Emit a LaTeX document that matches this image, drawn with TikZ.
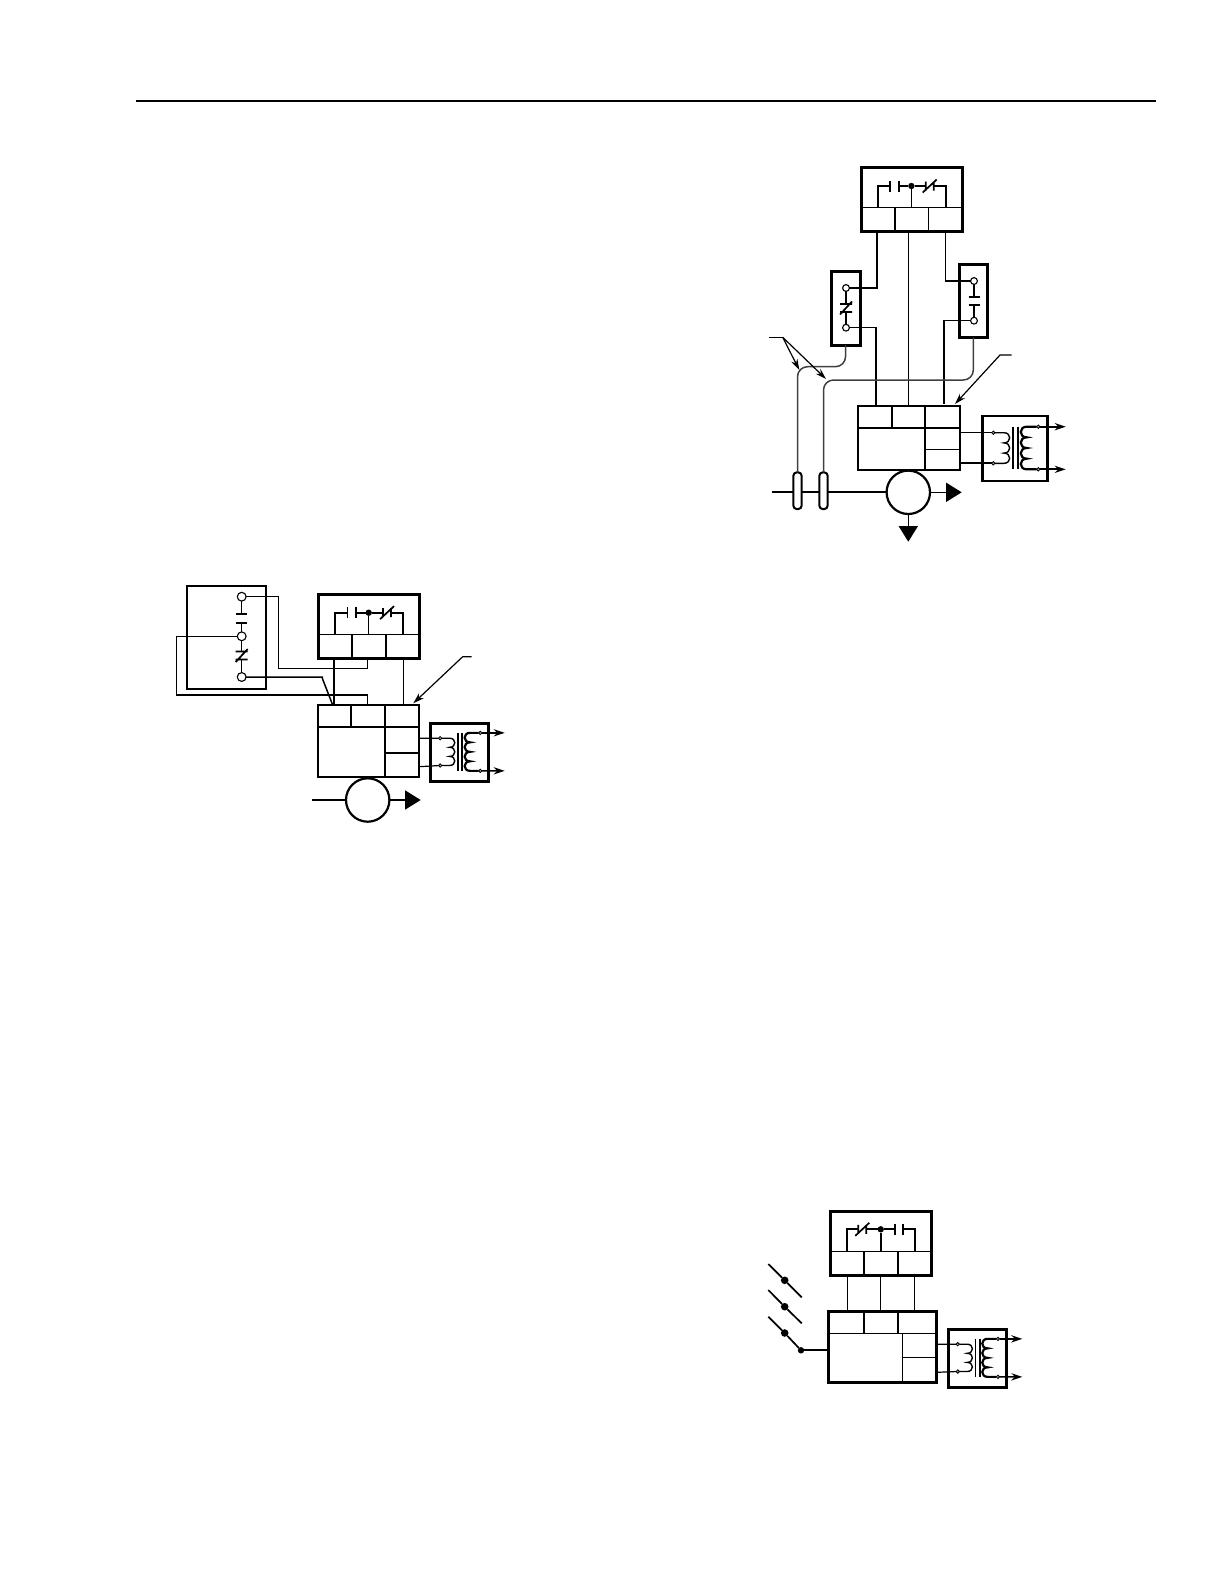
\documentclass[tikz,border=0pt]{standalone}
\usepackage{xcolor}
\usepackage{tikz}
\usetikzlibrary{shapes,positioning,arrows.meta}
\tikzset{
    sized/.style 2 args={minimum width=#1*0.5bp,minimum height=#2*0.5bp},
    box/.style={rectangle,draw,anchor=north west,inner sep=0,outer sep=0,line width=1.5bp},
    litebox/.style={box,line width=1.2bp},
    wire/.style={line width=0.85bp},
    fine/.style={line width=0.6bp},
    sense/.style={line width=0.75bp,black!75,rounded corners=5bp},
    term/.style={circle,draw,fill=white,inner sep=0,outer sep=0,minimum size=4.4bp,line width=0.55bp},
    smallterm/.style={term,minimum size=3.4bp},
    jdot/.style={circle,fill,inner sep=0,outer sep=0,minimum size=3.2bp},
    tdot/.style={circle,draw,fill=black!35,inner sep=0,outer sep=0,minimum size=1.7bp,line width=0.4bp},
    meter/.style={circle,draw,fill=white,inner sep=0,outer sep=0,minimum size=21.7bp,line width=1.1bp},
    tube/.style={rectangle,draw,fill=white,rounded corners=1.8bp,inner sep=0,outer sep=0,minimum width=4.2bp,minimum height=18.4bp,line width=1bp},
    bigtip/.style={-{Triangle[length=7.8bp,width=9.5bp]}},
    coilr/.style={out=0,in=0,looseness=1.9},
    coill/.style={out=180,in=180,looseness=1.9},
    makeh/.pic={
        \coordinate (-a) at (-4.3,0);
        \coordinate (-b) at (4.3,0);
        \draw[wire] (-4.3,-5.5) -- (-4.3,5.5) (4.3,-5.5) -- (4.3,5.5);
    },
    breakh/.pic={
        \coordinate (-a) at (-4,0);
        \coordinate (-b) at (4,0);
        \draw[wire] (-4,-4.5) -- (-4,4.5) (4,-4.5) -- (4,4.5) (-7,6.5) -- (7,-6.5);
    },
    breakv/.pic={
        \coordinate (-a) at (0,-4);
        \coordinate (-b) at (0,4);
        \draw[wire] (-6,-4) -- (6,-4) (-6,4) -- (6,4) (-6,6.5) -- (6,-6.5);
    },
    xfmr/.pic={
        \draw[line width=1.25bp] (0,0) rectangle (65,65);
        \node[tdot] (-pri1) at (10.6,16.7) {};
        \node[tdot] (-pri2) at (10.6,47.3) {};
        \node[tdot] (-sec1) at (55.6,10.7) {};
        \node[tdot] (-sec2) at (55.6,53.3) {};
        \coordinate (-out1) at (83,10.7);
        \coordinate (-out2) at (83,53.3);
        \draw[fine,line width=0.7bp] (-pri1) -- (21.3,16.7) to[coilr] (21.3,26.9) to[coilr] (21.3,37.1) to[coilr] (21.3,47.3) -- (-pri2);
        \draw[wire] (30.6,10.7) -- (30.6,53.3) (35.3,10.7) -- (35.3,53.3);
        \draw[line width=1.1bp] (-sec1) -- (44,10.7) to[coill] (44,21.35) to[coill] (44,32) to[coill] (44,42.65) to[coill] (44,53.3) -- (-sec2);
        \draw[line width=1.2bp,->,>={Stealth[length=5.5bp,width=3.6bp]}] (-sec1) -- (-out1);
        \draw[wire,->,>={Stealth[length=5.5bp,width=3.6bp]}] (-sec2) -- (-out2);
    }
}
\begin{document}
\begin{tikzpicture}[x=0.5bp,y=-0.5bp,>={Stealth[length=5.5bp,width=3.4bp]}]
    \useasboundingbox (0,0) rectangle (1224,1584);
    \coordinate (rulea) at (136,101);
    \coordinate (ruleb) at (1156,101);
    \draw[line width=1bp] (rulea) -- (ruleb);

    \node[litebox,sized={79.3}{103}] (a1) at (186.7,585.7) {};
    \node[term] (t1) at (241.7,596.7) {};
    \node[term] (t2) at (241.7,636.3) {};
    \node[term] (t3) at (241.7,677) {};
    \pic[rotate=90] (k1) at (241.7,618.5) {makeh};
    \pic (k2) at (241.7,655.5) {breakv};
    \draw[fine] (t1) -- (k1-b);
    \draw[fine] (k1-a) -- (t2);
    \draw[fine] (t2) -- (k2-a);
    \draw[fine] (k2-b) -- (t3);

    \node[box,sized={101}{64.3}] (b1) at (318.3,594) {};
    \draw[fine] (318.3,634.3) -- (419.3,634.3);
    \draw[wire] (352,634.3) -- (352,658.3) (385.7,634.3) -- (385.7,658.3);
    \coordinate (b1l) at (335,634.3);
    \coordinate (b1m) at (368.7,634.3);
    \coordinate (b1r) at (403.3,634.3);
    \node[jdot] (j1) at (368.7,612.7) {};
    \pic (k3) at (351.7,612.7) {makeh};
    \pic (k4) at (387,612.7) {breakh};
    \draw[wire] (b1l) |- (k3-a);
    \draw[wire] (k3-b) -- (j1);
    \draw[wire] (j1) -- (k4-a);
    \draw[wire] (k4-b) -| (b1r);
    \draw[fine] (j1) -- (b1m);

    \node[box,line width=1bp,sized={100.4}{71.7}] (c1) at (318.3,705) {};
    \draw[wire] (318.3,726.7) -- (418.7,726.7);
    \draw[wire] (351,705) -- (351,726.7);
    \draw[fine] (385,705) -- (385,776.7);
    \draw[wire] (385,753) -- (418.7,753);
    \pic[scale=0.892] (x1) at (430.7,723.3) {xfmr};
    \draw[fine] (418.7,738.3) -- (x1-pri1);
    \draw[fine] (418.7,766.7) -- (x1-pri2);

    \coordinate (b1a) at (334,658.3);
    \coordinate (b1b) at (367.7,658.3);
    \coordinate (b1c) at (403.3,658.3);
    \coordinate (c1a) at (334,705);
    \coordinate (c1b) at (367.7,705);
    \coordinate (c1c) at (403.3,705);
    \coordinate (c1d) at (332.7,705);
    \coordinate (w1) at (278.3,668.7);
    \coordinate (w2) at (322.3,678.3);
    \coordinate (w3) at (176.7,695);
    \draw[wire] (b1a) -- (c1a);
    \draw[fine] (b1c) -- (c1c);
    \draw[fine,line width=0.75bp] (b1b) |- (w1) |- (t1);
    \draw[fine,line width=0.75bp] (t3) -| (w2) -- (c1d);
    \draw[fine,line width=0.75bp] (t2) -| (w3) -| (c1b);
    \coordinate (lead1) at (471.7,656.7);
    \coordinate (lead1b) at (462.7,656.7);
    \coordinate (lead1c) at (413.3,703.3);
    \draw[fine,->] (lead1) -- (lead1b) -- (lead1c);

    \node[meter] (m1) at (367.7,800) {};
    \coordinate (m1in) at (312.3,800);
    \coordinate (m1out) at (420.7,800);
    \draw[fine,line width=0.75bp] (m1in) -- (m1);
    \draw[fine,line width=0.75bp,bigtip] (m1) -- (m1out);

    \node[box,sized={101.7}{64.4}] (b2) at (861,167.3) {};
    \draw[fine] (861,207.7) -- (962.7,207.7);
    \draw[wire] (895,207.7) -- (895,231.7);
    \draw[fine] (928.7,207.7) -- (928.7,231.7);
    \coordinate (b2l) at (877.7,207.7);
    \coordinate (b2m) at (911.4,207.7);
    \coordinate (b2r) at (946,207.7);
    \node[jdot] (j2) at (911.4,186) {};
    \pic (k5) at (894.4,186) {makeh};
    \pic (k6) at (929.7,186) {breakh};
    \draw[wire] (b2l) |- (k5-a);
    \draw[wire] (k5-b) -- (j2);
    \draw[wire] (j2) -- (k6-a);
    \draw[wire] (k6-b) -| (b2r);
    \draw[fine] (j2) -- (b2m);

    \node[box,sized={29}{74}] (d2) at (831,271) {};
    \node[smallterm] (t4) at (846,288) {};
    \node[smallterm] (t5) at (846,327.7) {};
    \pic (k7) at (846,308) {breakv};
    \draw[wire] (t4) -- (k7-a);
    \draw[wire] (k7-b) -- (t5);

    \node[box,sized={28.7}{73.7}] (e2) at (959,264) {};
    \node[smallterm] (t6) at (974,281) {};
    \node[smallterm] (t7) at (974,320.7) {};
    \pic[rotate=90] (k8) at (974,301) {makeh};
    \draw[wire] (t6) -- (k8-b);
    \draw[wire] (k8-a) -- (t7);

    \node[box,line width=1bp,sized={102.3}{64.3}] (c2) at (857.7,405.7) {};
    \draw[wire] (857.7,428.3) -- (960,428.3);
    \draw[wire] (891.7,405.7) -- (891.7,428.3);
    \draw[wire] (925,405.7) -- (925,470);
    \draw[fine] (925,449.3) -- (960,449.3);
    \pic (x2) at (982.7,416) {xfmr};
    \draw[fine] (960,432.7) -- (x2-pri1);
    \draw[wire] (960,463.3) -- (x2-pri2);

    \coordinate (b2a) at (877,231.7);
    \coordinate (b2b) at (908.3,231.7);
    \coordinate (b2c) at (945.7,231.7);
    \coordinate (c2a) at (876,405.7);
    \coordinate (c2b) at (908.3,405.7);
    \coordinate (c2c) at (944,404);
    \draw[line width=0.75bp] (b2a) |- (t4);
    \draw[line width=0.75bp] (t5) -| (c2a);
    \draw[fine] (b2b) -- (c2b);
    \draw[line width=0.75bp] (b2c) |- (t6);
    \draw[line width=0.75bp] (t7) -| (c2c);

    \node[meter] (m2) at (908.3,492.3) {};
    \coordinate (m2in) at (772.3,492.3);
    \coordinate (m2out) at (961.7,492.3);
    \coordinate (m2dn) at (908.3,541.7);
    \draw[wire] (m2in) -- (m2);
    \draw[fine,line width=0.75bp,bigtip] (m2) -- (m2out);
    \draw[fine,line width=0.75bp,bigtip] (m2) -- (m2dn);
    \node[tube] (u1) at (797.5,490.7) {};
    \node[tube] (u2) at (823.5,490.7) {};
    \coordinate (s1) at (820,366.7);
    \coordinate (s2) at (900,380);
    \draw[sense] (d2.south) |- (s1) -| (u1.north);
    \draw[sense] (e2.south) |- (s2) -| (u2.north);
    \coordinate (lead2) at (769.3,337.3);
    \coordinate (lead2b) at (782.7,337.3);
    \coordinate (lead2c) at (799.3,370);
    \coordinate (lead2d) at (826,379);
    \draw[fine] (lead2) -- (lead2b);
    \draw[fine,->] (lead2b) -- (lead2c);
    \draw[fine,->] (lead2b) -- (lead2d);
    \coordinate (lead3) at (1011.7,355);
    \coordinate (lead3b) at (1000,355);
    \coordinate (lead3c) at (955,404);
    \draw[fine,->] (lead3) -- (lead3b) -- (lead3c);

    \node[box,sized={101.7}{64}] (b3) at (830,1211) {};
    \draw[fine] (830,1251.7) -- (931.7,1251.7);
    \draw[wire] (864,1251.7) -- (864,1275) (897.7,1251.7) -- (897.7,1275);
    \coordinate (b3l) at (846.7,1251.7);
    \coordinate (b3m) at (880.7,1251.7);
    \coordinate (b3r) at (915,1251.7);
    \node[jdot] (j3) at (880.7,1229.3) {};
    \pic (k9) at (862.3,1229.3) {breakh};
    \pic (k10) at (899,1229.3) {makeh};
    \draw[wire] (b3l) |- (k9-a);
    \draw[wire] (k9-b) -- (j3);
    \draw[wire] (j3) -- (k10-a);
    \draw[wire] (k10-b) -| (b3r);
    \draw[wire] (j3) -- (b3m);

    \node[box,sized={108.4}{71}] (c3) at (828.3,1311.7) {};
    \draw[fine] (828.3,1333.3) -- (936.7,1333.3);
    \draw[wire] (864,1311.7) -- (864,1333.3) (897.7,1311.7) -- (897.7,1333.3);
    \draw[fine] (902.3,1333.3) -- (902.3,1382.7);
    \draw[fine] (902.3,1357.7) -- (936.7,1357.7);
    \pic[scale=0.892] (x3) at (948.3,1329.3) {xfmr};
    \draw[fine] (936.7,1344.3) -- (x3-pri1);
    \draw[fine] (936.7,1372.3) -- (x3-pri2);

    \coordinate (b3a) at (847.3,1275);
    \coordinate (b3b) at (880.7,1275);
    \coordinate (b3c) at (914.3,1275);
    \coordinate (c3a) at (847.3,1311.7);
    \coordinate (c3b) at (880.7,1311.7);
    \coordinate (c3c) at (914.3,1311.7);
    \draw[fine] (b3a) -- (c3a);
    \draw[fine] (b3b) -- (c3b);
    \draw[fine] (b3c) -- (c3c);

    \coordinate (p1a) at (768.3,1264);
    \coordinate (p1b) at (801.7,1297.3);
    \coordinate (p2a) at (768.3,1290);
    \coordinate (p2b) at (801.7,1323.3);
    \coordinate (p3a) at (768.3,1316.7);
    \node[jdot,minimum size=3.8bp] (d1) at (784.7,1280.3) {};
    \node[jdot,minimum size=3.8bp] (d2b) at (784.7,1306.7) {};
    \node[jdot,minimum size=3.8bp] (d3) at (784.7,1333) {};
    \node[jdot] (d4) at (801,1350.3) {};
    \coordinate (c3in) at (828.3,1350.3);
    \draw[wire] (p1a) -- (d1) -- (p1b);
    \draw[wire] (p2a) -- (d2b) -- (p2b);
    \draw[wire] (p3a) -- (d3) -- (d4);
    \draw[line width=1.1bp] (d4) -- (c3in);
\end{tikzpicture}
\end{document}
